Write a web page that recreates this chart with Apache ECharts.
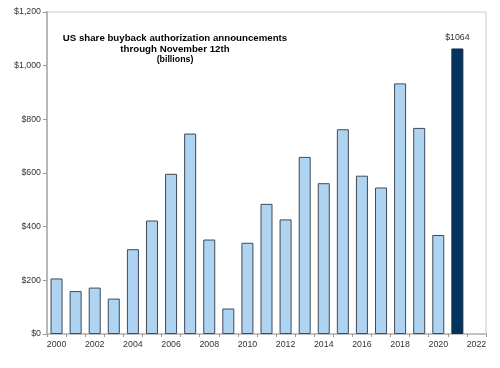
<!DOCTYPE html>
<html><head><meta charset="utf-8">
<script src="https://cdn.jsdelivr.net/npm/echarts@6/dist/echarts.min.js"></script>
<style>html,body{margin:0;padding:0;background:#fff}#c{width:500px;height:368px}</style>
</head><body><div id="c"></div>
<script>
const years = ['2000','2001','2002','2003','2004','2005','2006','2007','2008','2009','2010','2011','2012','2013','2014','2015','2016','2017','2018','2019','2020','2021','2022'];
const values = [207, 160, 173, 132, 316, 423, 597, 747, 352, 95, 340, 485, 427, 660, 562, 763, 590, 546, 934, 768, 369, 1064, null];
const highlightYear = '2021';
const titleLines = ['US share buyback authorization announcements', 'through November 12th', '(billions)'];

const FONT = 'Liberation Sans, Arial';
const chart = echarts.init(document.getElementById('c'), null, {renderer: 'canvas'});
const data = values.map((v, i) => {
  if (v === null) return '-';
  if (years[i] === highlightYear) {
    return {value: v, itemStyle: {color: '#003560', borderColor: '#1c2a3a'},
      label: {show: true, position: 'top', distance: 6, formatter: '$' + v, color: '#333', fontSize: 8.8, fontFamily: FONT}};
  }
  return v;
});
chart.setOption({
  animation: false,
  title: {
    text: titleLines[0] + '\n' + titleLines[1], subtext: titleLines[2],
    left: 175, top: 32.5, textAlign: 'center', itemGap: 1, padding: 0,
    textStyle: {fontSize: 9.7, fontWeight: 'bold', color: '#000', fontFamily: FONT, lineHeight: 11},
    subtextStyle: {fontSize: 8.8, fontWeight: 'bold', color: '#000', fontFamily: FONT, lineHeight: 9}
  },
  grid: {left: 47, right: 14, top: 12, bottom: 34, show: true, borderColor: '#c8c8c8', borderWidth: 1},
  xAxis: {
    type: 'category', data: years, boundaryGap: true,
    axisLine: {lineStyle: {color: '#b8b8b8', width: 1.5}},
    axisTick: {show: true, interval: 0, length: 3, lineStyle: {color: '#999'}},
    axisLabel: {interval: 1, color: '#333', fontSize: 8.8, fontFamily: FONT, margin: 6}
  },
  yAxis: {
    type: 'value', min: 0, max: 1200, interval: 200,
    splitLine: {show: false},
    axisLine: {show: true, lineStyle: {color: '#b8b8b8', width: 2}},
    axisTick: {show: true, length: 4, lineStyle: {color: '#999'}},
    axisLabel: {color: '#333', fontSize: 8.8, fontFamily: FONT, margin: 6,
      formatter: v => '$' + v.toLocaleString('en-US')}
  },
  series: [{
    type: 'bar', data: data, barWidth: 12,
    itemStyle: {color: '#aed4f1', borderColor: '#3f4a55', borderWidth: 1}
  }]
});
</script></body></html>
